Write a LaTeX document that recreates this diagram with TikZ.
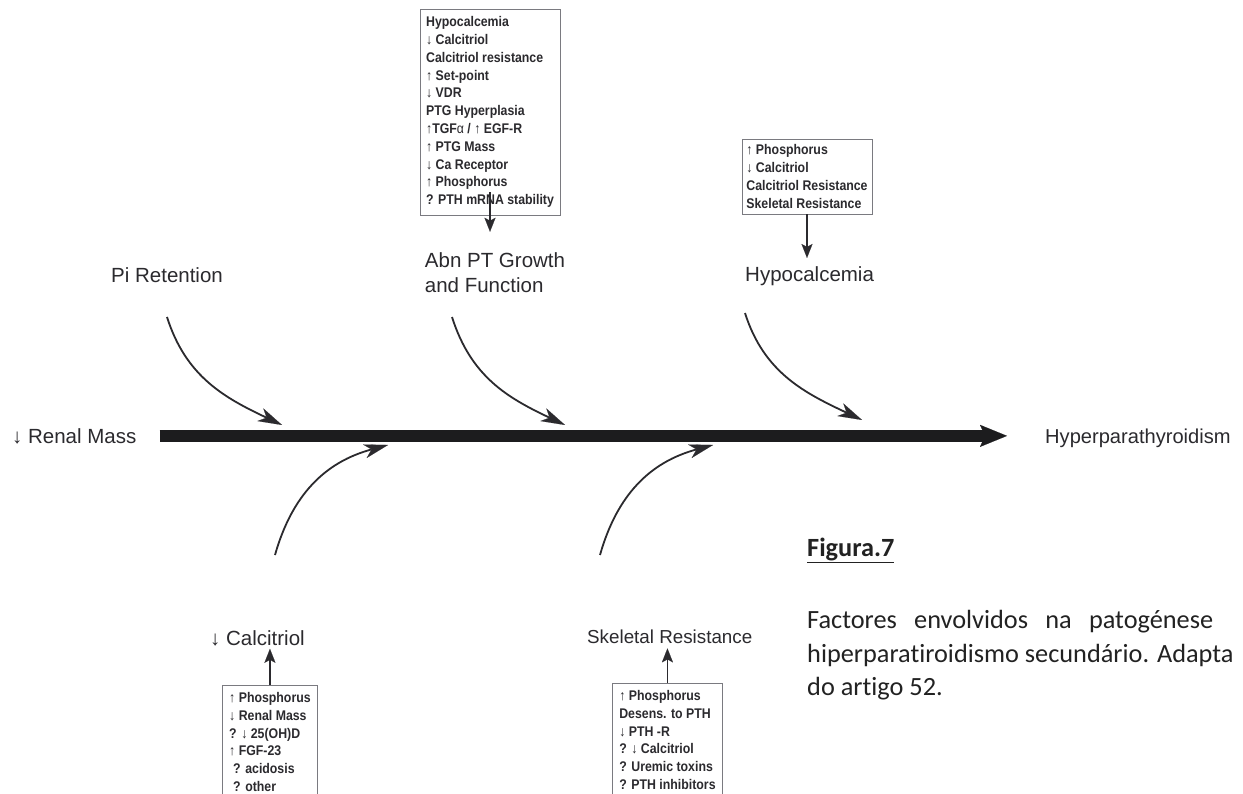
\documentclass[tikz,border=0pt]{standalone}
\usepackage{fontspec}
\setmainfont{Liberation Sans}
\newfontfamily\boxfont[FakeStretch=0.88]{Liberation Sans}
\newfontfamily\capfont[Ligatures={NoCommon}]{Carlito}
\usetikzlibrary{arrows.meta}
\definecolor{ink}{HTML}{2B2A2E}
\definecolor{barink}{HTML}{1C1C1E}
\definecolor{frame}{HTML}{7A7A80}
\definecolor{capink}{HTML}{222222}
\begin{document}
\begin{tikzpicture}[x=1pt,y=-1pt,
  lbl/.style={inner sep=0pt, text=ink, font=\fontsize{20.5pt}{25pt}\selectfont},
  factbox/.style={draw=frame, line width=0.9pt, align=left, text=ink, inner xsep=0pt,
    font=\boxfont\bfseries\fontsize{14pt}{17.8pt}\selectfont},
  frameline/.style={draw=frame, line width=0.9pt},
  capnode/.style={inner sep=0pt, text=capink, font=\capfont\fontsize{26.3pt}{34pt}\selectfont},
  mainbar/.style={draw=barink, line width=12pt,
    -{Stealth[length=27pt,width=22pt,inset=5pt,line width=0.1pt]}},
  sarrow/.style={draw=ink, line width=1.6pt,
    -{Stealth[length=14pt,width=11pt,inset=3pt,line width=0.1pt]}},
  carrow/.style={draw=ink, line width=1.8pt,
    -{Stealth[length=24pt,width=14pt,inset=7pt,line width=0.1pt]}}
]
\useasboundingbox[fill=white] (0,0) rectangle (1243,794);
\coordinate (bottomedge) at (0,794);

% top factor boxes
\node[factbox, minimum width=140pt, minimum height=206pt] (tb) at (490,112)
  {Hypocalcemia\\ ↓ Calcitriol\\ Calcitriol resistance\\ ↑ Set-point\\ ↓ VDR\\
   PTG Hyperplasia\\ ↑TGF{\mdseries α} / ↑ EGF-R\\ ↑ PTG Mass\\ ↓ Ca Receptor\\
   ↑ Phosphorus\\ ? PTH mRNA stability};
\node[factbox, minimum width=130pt, minimum height=75pt] (rb) at (807,176.5)
  {↑ Phosphorus\\ ↓ Calcitriol\\ Calcitriol Resistance\\ Skeletal Resistance};

% bottom factor boxes (cut by the lower edge)
\node[factbox, draw=none, anchor=north west, minimum width=95pt, inner ysep=7pt] (bl) at (222,685)
  {↑ Phosphorus\\ ↓ Renal Mass\\ ? ↓ 25(OH)D\\ ↑ FGF-23\\ \hspace{4pt}? acidosis\\ \hspace{4pt}? other};
\node[factbox, draw=none, anchor=north west, minimum width=110pt, inner ysep=7pt] (br) at (612,683)
  {↑ Phosphorus\\ Desens. to PTH\\ ↓ PTH -R\\ ? ↓ Calcitriol\\ ? Uremic toxins\\ ? PTH inhibitors};
\draw[frameline] (bl.north west |- bottomedge) -- (bl.north west) -- (bl.north east) -- (bl.north east |- bottomedge);
\draw[frameline] (br.north west |- bottomedge) -- (br.north west) -- (br.north east) -- (br.north east |- bottomedge);

% labels
\node[lbl, anchor=base west] (pi) at (111,283) {Pi Retention};
\node[lbl, align=left] (abn) at (495,273) {Abn PT Growth\\and Function};
\node[lbl, anchor=base west] (hypo) at (745,282) {Hypocalcemia};
\node[lbl, anchor=base west] (rm) at (12,443) {↓ Renal Mass};
\node[lbl, anchor=base west, font=\fontsize{20.1pt}{25pt}\selectfont] (hp) at (1045,443) {Hyperparathyroidism};
\node[lbl, anchor=base west] (calcitriol) at (210,645) {↓ Calcitriol};
\node[lbl, anchor=base west, font=\fontsize{18.8pt}{25pt}\selectfont] (skel) at (587,643) {Skeletal Resistance};

% main spine
\draw[mainbar, shorten <=23pt, shorten >=38pt] (rm.east) -- (rm.east -| hp.west);

% box-to-label arrows
\draw[sarrow, shorten >=21pt] ([yshift=23pt]tb.south) -- (tb.south |- abn.north);
\draw[sarrow, shorten >=9pt] (rb.south) -- (rb.south |- hypo.north);
\draw[sarrow, shorten >=3pt] (bl.north) -- (bl.north |- calcitriol.south);
\draw[sarrow, shorten >=5pt] (br.north) -- (br.north |- skel.south);

% curved cause arrows
\coordinate (s1) at (167,317); \coordinate (e1) at (282,425);
\coordinate (s2) at (452,317); \coordinate (e2) at (565,425);
\coordinate (s3) at (745,313); \coordinate (e3) at (862,420);
\coordinate (s4) at (275,555); \coordinate (e4) at (388,445);
\coordinate (s5) at (600,555); \coordinate (e5) at (713,445);
\draw[carrow] (s1) .. controls +(19,60) and +(-57,-27) .. (e1);
\draw[carrow] (s2) .. controls +(19,60) and +(-57,-27) .. (e2);
\draw[carrow] (s3) .. controls +(19,60) and +(-57,-27) .. (e3);
\draw[carrow] (s4) .. controls +(17,-60) and +(-63,17) .. (e4);
\draw[carrow] (s5) .. controls +(17,-60) and +(-63,17) .. (e5);

% caption
\node[capnode, anchor=base west] (fig) at (807,556) {\bfseries\underline{Figura.7}};
\node[capnode, anchor=base west] (cap1) at (807,628) {\makebox[406pt][s]{Factores envolvidos na patogénese}};
\node[capnode, anchor=base west] (cap2) at (807,662) {hiperparatiroidismo secundário. Adapta};
\node[capnode, anchor=base west] (cap3) at (807,695) {do artigo 52.};
\end{tikzpicture}
\end{document}
